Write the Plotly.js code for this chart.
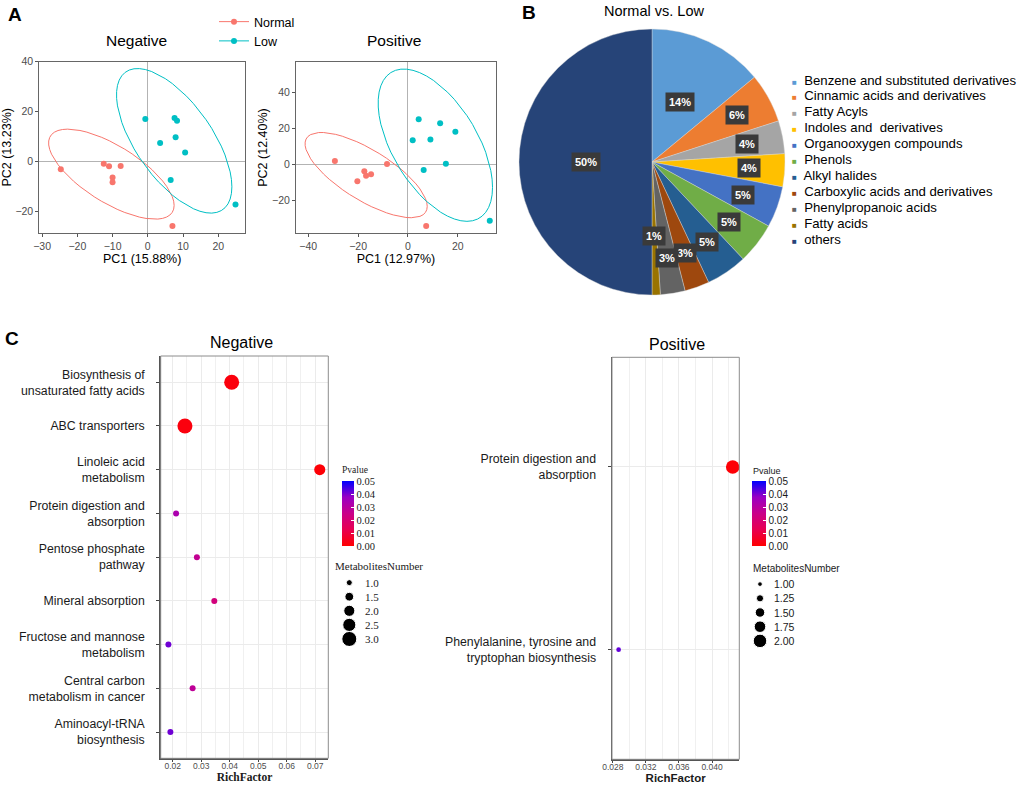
<!DOCTYPE html>
<html><head><meta charset="utf-8">
<script src="https://cdn.plot.ly/plotly-3.0.1.min.js"></script>
<style>html,body{margin:0;padding:0;background:#fff}#chart{width:1020px;height:786px}</style>
</head><body><div id="chart"></div>
<script>
// ---------------- Panel A data (PCA scores) ----------------
const groupNames = ['Normal', 'Low'];
const negNormalPC1 = [-24.7, -12.5, -11.0, -7.7, -10.0, -10.0, 7.0];
const negNormalPC2 = [-3.0, -0.8, -1.8, -1.7, -6.3, -8.2, -25.7];
const negLowPC1 = [-0.7, 7.6, 8.3, 7.9, 3.5, 10.6, 6.5, 24.9];
const negLowPC2 = [17.1, 17.5, 16.4, 9.8, 7.5, 3.7, -7.3, -17.1];
const posNormalPC1 = [-29.3, -17.5, -16.8, -14.8, -20.3, -8.4, 7.3];
const posNormalPC2 = [1.8, -3.9, -6.5, -5.7, -9.6, 0.0, -34.4];
const posLowPC1 = [4.3, 12.9, 19.0, 1.9, 9.0, 15.2, 6.3, 32.8];
const posLowPC2 = [25.0, 22.8, 18.0, 13.3, 13.7, 0.2, -3.3, -31.5];
const negAxisTitles = ['PC1 (15.88%)', 'PC2 (13.23%)'];
const posAxisTitles = ['PC1 (12.97%)', 'PC2 (12.40%)'];

// ---------------- Panel B data (class composition) ----------------
const classNames = ['Benzene and substituted derivatives', 'Cinnamic acids and derivatives', 'Fatty Acyls',
  'Indoles and  derivatives', 'Organooxygen compounds', 'Phenols', 'Alkyl halides',
  'Carboxylic acids and derivatives', 'Phenylpropanoic acids', 'Fatty acids', 'others'];
const classPercent = [14, 6, 4, 4, 5, 5, 5, 3, 3, 1, 50];

// ---------------- Panel C data (KEGG enrichment) ----------------
const negPathways = ['Biosynthesis of<br>unsaturated fatty acids', 'ABC transporters', 'Linoleic acid<br>metabolism',
  'Protein digestion and<br>absorption', 'Pentose phosphate<br>pathway', 'Mineral absorption',
  'Fructose and mannose<br>metabolism', 'Central carbon<br>metabolism in cancer', 'Aminoacyl-tRNA<br>biosynthesis'];
const negRichFactor = [0.0407, 0.0243, 0.0716, 0.0212, 0.0285, 0.0346, 0.0185, 0.0270, 0.0192];
const negPvalue = [0.002, 0.002, 0.001, 0.033, 0.027, 0.022, 0.041, 0.028, 0.041];
const negMetabolites = [3, 3, 2, 1, 1, 1, 1, 1, 1];
const posPathways = ['Protein digestion and<br>absorption', 'Phenylalanine, tyrosine and<br>tryptophan biosynthesis'];
const posRichFactor = [0.0425, 0.0287];
const posPvalue = [0.001, 0.042];
const posMetabolites = [2, 1];
const negSizeBreaks = [1.0, 1.5, 2.0, 2.5, 3.0];
const posSizeBreaks = [1.00, 1.25, 1.50, 1.75, 2.00];
const pvalueBreaks = [0, 0.01, 0.02, 0.03, 0.04, 0.05];

// ---------------- styles ----------------
const W = 1020, H = 786;
const SANS = 'Liberation Sans, Arial, sans-serif';
const SERIF = 'Liberation Serif, Times New Roman, serif';
const groupColors = ['#F8766D', '#00BFC4'];
const classColors = ['#5B9BD5', '#ED7D31', '#A5A5A5', '#FFC000', '#4472C4', '#70AD47', '#255E91',
  '#9E480E', '#636363', '#997300', '#264478'];
const pColorscale = [[0, '#FF0000'], [0.25, '#E80050'], [0.5, '#CA0089'], [0.75, '#9A00C3'], [1, '#0000FF']];
const px = v => v / W;
const py = v => 1 - v / H;

// ggplot2 stat_ellipse (type = "t", level 0.95) using MASS::cov.trob
function tEllipse(xs, ys, level = 0.95, segments = 51) {
  const n = xs.length, p = 2, nu = 5;
  const sum = a => a.reduce((s, v) => s + v, 0);
  let loc = [sum(xs) / n, sum(ys) / n];
  let w = new Array(n).fill(1);
  let X = [];
  for (let it = 0; it < 25; it++) {
    const w0 = w.slice();
    X = xs.map((x, i) => [x - loc[0], ys[i] - loc[1]]);
    const sw = sum(w);
    let a = 0, b = 0, c = 0;
    X.forEach((r, i) => { const f = w[i] / sw; a += f * r[0] * r[0]; b += f * r[0] * r[1]; c += f * r[1] * r[1]; });
    const det = a * c - b * b;
    w = X.map(r => (nu + p) / (nu + (c * r[0] * r[0] - 2 * b * r[0] * r[1] + a * r[1] * r[1]) / det));
    const sw2 = sum(w);
    loc = [sum(xs.map((x, i) => w[i] * x)) / sw2, sum(ys.map((y, i) => w[i] * y)) / sw2];
    if (w.every((v, i) => Math.abs(v - w0[i]) < 0.01)) break;
  }
  let a = 0, b = 0, c = 0;
  X.forEach((r, i) => { a += w[i] * r[0] * r[0]; b += w[i] * r[0] * r[1]; c += w[i] * r[1] * r[1]; });
  a /= n; b /= n; c /= n;
  const u11 = Math.sqrt(a), u12 = b / u11, u22 = Math.sqrt(c - u12 * u12);
  const dfd = n - 1;
  const radius = Math.sqrt(2 * (dfd / 2) * (Math.pow(1 - level, -2 / dfd) - 1));
  const ex = [], ey = [];
  for (let k = 0; k <= segments; k++) {
    const t = 2 * Math.PI * k / segments, cs = Math.cos(t), sn = Math.sin(t);
    ex.push(loc[0] + radius * cs * u11);
    ey.push(loc[1] + radius * (cs * u12 + sn * u22));
  }
  return { x: ex, y: ey };
}

function sizeScale(v, vmin, vmax, smin, smax) {
  return smin + (smax - smin) * (Math.sqrt(v) - Math.sqrt(vmin)) / (Math.sqrt(vmax) - Math.sqrt(vmin));
}

const traces = [];
const pcaSets = [
  { ax: ['x', 'y'], pts: [[negNormalPC1, negNormalPC2], [negLowPC1, negLowPC2]] },
  { ax: ['x2', 'y2'], pts: [[posNormalPC1, posNormalPC2], [posLowPC1, posLowPC2]] }
];
pcaSets.forEach(set => {
  set.pts.forEach((g, gi) => {
    const e = tEllipse(g[0], g[1]);
    traces.push({ type: 'scatter', mode: 'lines', x: e.x, y: e.y, xaxis: set.ax[0], yaxis: set.ax[1],
      line: { color: groupColors[gi], width: 1 }, showlegend: false, hoverinfo: 'skip' });
    traces.push({ type: 'scatter', mode: 'markers', x: g[0], y: g[1], xaxis: set.ax[0], yaxis: set.ax[1],
      marker: { color: groupColors[gi], size: 6, opacity: 1 }, showlegend: false, hoverinfo: 'skip' });
  });
});
// legend entries for groups
groupNames.forEach((g, gi) => {
  traces.push({ type: 'scatter', mode: 'lines+markers', x: [null], y: [null], xaxis: 'x', yaxis: 'y', name: g,
    line: { color: groupColors[gi], width: 1 }, marker: { color: groupColors[gi], size: 6 }, showlegend: true });
});

// Panel B pie
const pieCx = 652, pieCy = 162, pieR = 133;
traces.push({ type: 'pie', values: classPercent, labels: classNames, sort: false, direction: 'clockwise', rotation: 0,
  marker: { colors: classColors, line: { color: '#d9d9d9', width: 0.4 } }, textinfo: 'none', showlegend: false,
  domain: { x: [px(pieCx - pieR), px(pieCx + pieR)], y: [py(pieCy + pieR), py(pieCy - pieR)] }, hoverinfo: 'skip' });

// Panel C scatter
function cTrace(xv, yv, pv, mv, ax, smin, smax, cbx, thick, fontFam, tickSize) {
  const mmin = Math.min(...mv), mmax = Math.max(...mv);
  return { type: 'scatter', mode: 'markers', x: xv, y: yv, xaxis: ax[0], yaxis: ax[1], showlegend: false, hoverinfo: 'skip',
    cliponaxis: false,
    marker: { color: pv, cmin: 0, cmax: 0.05, colorscale: pColorscale, size: mv.map(v => sizeScale(v, mmin, mmax, smin, smax)),
      opacity: 1, line: { width: 0 }, showscale: true,
      colorbar: { x: px(cbx), xanchor: 'left', xpad: 0, y: py(481), yanchor: 'top', ypad: 0, len: 65, lenmode: 'pixels',
        thickness: thick, thicknessmode: 'pixels', outlinewidth: 0, tickvals: pvalueBreaks,
        ticktext: pvalueBreaks.map(v => v.toFixed(2)), ticks: 'inside', ticklen: 3, tickcolor: '#ffffff',
        tickfont: { family: fontFam, size: tickSize, color: '#1a1a1a' } } } };
}
traces.push(cTrace(negRichFactor, negPathways, negPvalue, negMetabolites, ['x3', 'y3'], 6, 15, 341.7, 12, SERIF, 10.5));
traces.push(cTrace(posRichFactor, posPathways, posPvalue, posMetabolites, ['x4', 'y4'], 4.7, 13.5, 751.5, 14, SANS, 10));

// size legends (mini axes)
traces.push({ type: 'scatter', mode: 'markers', x: negSizeBreaks.map(() => 14.3), y: negSizeBreaks.map((v, i) => i),
  xaxis: 'x5', yaxis: 'y5', showlegend: false, hoverinfo: 'skip',
  marker: { color: '#000', opacity: 1, size: negSizeBreaks.map(v => sizeScale(v, 1, 3, 6, 15)) } });
traces.push({ type: 'scatter', mode: 'markers', x: posSizeBreaks.map(() => 14), y: posSizeBreaks.map((v, i) => i),
  xaxis: 'x6', yaxis: 'y6', showlegend: false, hoverinfo: 'skip',
  marker: { color: '#000', opacity: 1, size: posSizeBreaks.map(v => sizeScale(v, 1, 2, 4.7, 13.5)) } });

// ---------------- layout ----------------
const pcaX = (dom, range, dtick, title) => ({
  domain: dom, range: range, dtick: dtick, tick0: 0, showgrid: false, zeroline: true, zerolinecolor: '#b3b3b3',
  zerolinewidth: 1, showline: true, mirror: true, linecolor: '#666', linewidth: 1, ticks: 'outside', ticklen: 3,
  tickcolor: '#555', tickfont: { family: SANS, size: 10.5, color: '#4d4d4d' }, automargin: false, fixedrange: true,
  title: { text: title, font: { family: SANS, size: 12.5, color: '#000' }, standoff: 1 }
});
const cY = (dom, cats, anchor) => ({
  domain: dom, type: 'category', categoryorder: 'array', categoryarray: cats, range: [cats.length - 0.4, -0.6],
  showgrid: true, gridcolor: '#ebebeb', gridwidth: 1, showline: true, linecolor: '#555', linewidth: 1.5,
  ticks: 'outside', ticklen: 3, tickcolor: '#444', ticklabelstandoff: 9, anchor: anchor,
  tickfont: { family: SANS, size: 12.3, color: '#1a1a1a' }, automargin: false, zeroline: false
});
const cX = (dom, range, dtick, tick0, fmt, minorDtick, anchor, titleFont) => ({
  domain: dom, range: range, dtick: dtick, tick0: tick0, tickformat: fmt, showgrid: true, gridcolor: '#ebebeb',
  gridwidth: 1, minor: { dtick: minorDtick, tick0: tick0, showgrid: true, gridcolor: '#f0f0f0', gridwidth: 1 },
  showline: true, linecolor: '#555', linewidth: 1.5, ticks: 'outside', ticklen: 2, tickcolor: '#444', zeroline: false,
  ticklabelstandoff: -3,
  tickfont: { family: SANS, size: 8.5, color: '#4d4d4d' }, automargin: false, anchor: anchor,
  title: { text: '<b>RichFactor</b>', font: { family: titleFont, size: 11.5, color: '#1a1a1a' }, standoff: 1 }
});
const hidden = (dom, range, anchor) => ({ domain: dom, range: range, visible: false, showgrid: false, zeroline: false, anchor: anchor });

const annotations = [];
const addText = (x, y, text, size, opts = {}) => annotations.push(Object.assign({
  xref: 'paper', yref: 'paper', x: px(x), y: py(y), text: text, showarrow: false, xanchor: 'center', yanchor: 'middle',
  font: { family: SANS, size: size, color: '#000' } }, opts));

addText(15, 15, '<b>A</b>', 19);
addText(529, 12, '<b>B</b>', 19);
addText(12, 338, '<b>C</b>', 19);
addText(136, 41, 'Negative', 15.5);
addText(394, 41, 'Positive', 15.5);
addText(654, 11, 'Normal vs. Low', 14.5);
addText(241, 343, 'Negative', 16);
addText(677, 344, 'Positive', 16);

// pie labels (placed at slice mid-angles)
let cum = 0;
const total = classPercent.reduce((s, v) => s + v, 0);
classPercent.forEach(v => {
  const frac = v / total;
  const mid = (cum + v / 2) / total;
  cum += v;
  const ang = 2 * Math.PI * mid;
  const rf = frac >= 0.1 ? 0.5 : (frac < 0.02 ? 0.56 : 0.73);
  addText(pieCx + rf * pieR * Math.sin(ang), pieCy - rf * pieR * Math.cos(ang), '<b>' + v + '%</b>', 11,
    { bgcolor: '#3a3a3a', borderpad: 3, font: { family: SANS, size: 11, color: '#ffffff' } });
});
// pie legend
classNames.forEach((c, i) => {
  addText(790, 80 + i * 15.9, '<span style="color:' + classColors[i] + ';font-size:8px">■</span>  ' + c, 13.2,
    { xanchor: 'left' });
});

// colorbar titles and size-legend titles
addText(340, 470, 'Pvalue', 9.5, { xanchor: 'left', font: { family: SERIF, size: 9.5, color: '#1a1a1a' } });
addText(333, 566, 'MetabolitesNumber', 11, { xanchor: 'left', font: { family: SERIF, size: 11, color: '#1a1a1a' } });
addText(751, 471, 'Pvalue', 9, { xanchor: 'left', font: { family: SANS, size: 9, color: '#1a1a1a' } });
addText(751, 568, 'MetabolitesNumber', 10, { xanchor: 'left', font: { family: SANS, size: 10, color: '#1a1a1a' } });
negSizeBreaks.forEach((v, i) => annotations.push({ xref: 'x5', yref: 'y5', x: 28, y: i, text: v.toFixed(1), showarrow: false,
  xanchor: 'left', yanchor: 'middle', font: { family: SERIF, size: 11, color: '#1a1a1a' } }));
posSizeBreaks.forEach((v, i) => annotations.push({ xref: 'x6', yref: 'y6', x: 26, y: i, text: v.toFixed(2), showarrow: false,
  xanchor: 'left', yanchor: 'middle', font: { family: SANS, size: 10.5, color: '#1a1a1a' } }));

const shapes = [
  { type: 'rect', xref: 'x3 domain', yref: 'y3 domain', x0: 0, x1: 1, y0: 0, y1: 1, line: { color: '#8c8c8c', width: 1 } },
  { type: 'rect', xref: 'x4 domain', yref: 'y4 domain', x0: 0, x1: 1, y0: 0, y1: 1, line: { color: '#8c8c8c', width: 1 } }
];

const layout = {
  width: W, height: H, margin: { l: 0, r: 0, t: 0, b: 0 }, paper_bgcolor: '#fff', plot_bgcolor: 'rgba(0,0,0,0)',
  font: { family: SANS }, hovermode: false, showlegend: true,
  legend: { x: px(214), y: py(7), xanchor: 'left', yanchor: 'top', bgcolor: 'rgba(0,0,0,0)',
    font: { family: SANS, size: 12.5, color: '#000' }, tracegroupgap: 0 },
  xaxis: Object.assign(pcaX([px(39.3), px(245)], [-30.8, 27.6], 10, negAxisTitles[0]), { anchor: 'y' }),
  yaxis: Object.assign(pcaX([py(233), py(61.7)], [-28.5, 40], 20, negAxisTitles[1]), { anchor: 'x' }),
  xaxis2: Object.assign(pcaX([px(296), px(496)], [-44.9, 35.3], 20, posAxisTitles[0]), { anchor: 'y2' }),
  yaxis2: Object.assign(pcaX([py(233.3), py(61.7)], [-38.5, 57], 20, posAxisTitles[1]), { anchor: 'x2' }),
  xaxis3: cX([px(160.7), px(328.3)], [0.0158, 0.0746], 0.01, 0, '.2f', 0.005, 'y3', SERIF),
  yaxis3: cY([py(758.3), py(356)], negPathways, 'x3'),
  xaxis4: cX([px(612), px(739.3)], [0.0279, 0.0433], 0.004, 0.028, '.3f', 0.002, 'y4', SANS),
  yaxis4: cY([py(759.3), py(357.3)], posPathways, 'x4'),
  xaxis5: hidden([px(335), px(395)], [0, 60], 'y5'),
  yaxis5: hidden([py(646), py(575.6)], [4.5, -0.5], 'x5'),
  xaxis6: hidden([px(746), px(806)], [0, 60], 'y6'),
  yaxis6: hidden([py(648), py(577)], [4.5, -0.5], 'x6'),
  annotations: annotations, shapes: shapes
};

Plotly.newPlot('chart', traces, layout, { staticPlot: true, displayModeBar: false });
</script></body></html>
